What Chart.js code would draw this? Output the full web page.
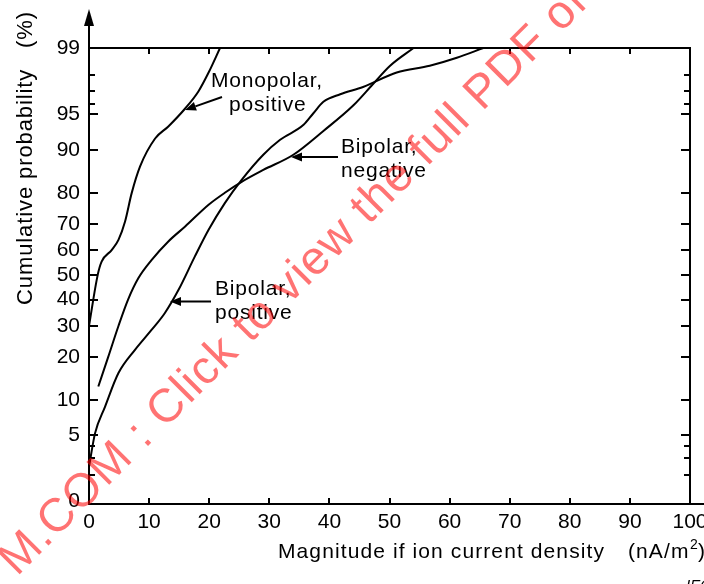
<!DOCTYPE html>
<html><head><meta charset="utf-8">
<script src="https://cdn.jsdelivr.net/npm/chart.js@4.4.1/dist/chart.umd.min.js"></script>
<style>html,body{margin:0;padding:0;background:#fff;overflow:hidden}#c{display:block}</style>
</head><body>
<canvas id="c" width="704" height="584"></canvas>
<script>
// ---- data (cumulative probability in %, x in nA/m2) ----
const monoX = [0, 1.45, 2.1, 3.8, 4.9, 6.0, 7.1, 8.5, 11.0, 13.2, 16.0, 18.2, 19.9, 21.8];
const monoP = [30, 50, 55.4, 60.1, 64, 70.8, 79.9, 86.7, 91.9, 93.6, 95.6, 97, 98.1, 99];
const bipNegX = [1.55, 3.2, 4.9, 6.5, 8.2, 10.4, 13.2, 16.0, 19.9, 22.6, 25.4, 29.0, 34.0, 39.0, 44.0, 47.3, 50.1, 54.0];
const bipNegP = [12.6, 20, 30, 40, 48.6, 56, 63.4, 69, 76.4, 80, 83, 85.9, 89.1, 93.0, 95.9, 97.5, 98.4, 99];
const bipPosX = [0, 1.0, 2.66, 4.9, 7.65, 10.4, 12.6, 14.9, 17.6, 19.9, 22.6, 25.4, 29.0, 31.8, 35.7, 37.3, 39.0, 41.8, 45.6, 51.2, 56.7, 61.2, 65.6];
const bipPosP = [2.45, 5.2, 8.8, 15.7, 22.1, 28.6, 34.7, 43.9, 57.4, 67.8, 76.9, 83.5, 89.1, 91.7, 93.8, 95.1, 96.2, 96.8, 97.3, 98.1, 98.4, 98.7, 99];
const yTickPos = [1, 5, 10, 20, 30, 40, 50, 60, 70, 80, 90, 95, 99];
const yTickLabels = ['0', '5', '10', '20', '30', '40', '50', '60', '70', '80', '90', '95', '99'];
const yMinorPos = [2, 3, 4, 96, 97, 98];
const xTickValues = [10, 20, 30, 40, 50, 60, 70, 80, 90];

const FONT = '"Liberation Sans", Arial, Helvetica, sans-serif';

function probit(p) {
  const a=[-3.969683028665376e+01,2.209460984245205e+02,-2.759285104469687e+02,1.383577518672690e+02,-3.066479806614716e+01,2.506628277459239e+00];
  const b=[-5.447609879822406e+01,1.615858368580409e+02,-1.556989798598866e+02,6.680131188771972e+01,-1.328068155288572e+01];
  const c=[-7.784894002430293e-03,-3.223964580411365e-01,-2.400758277161838e+00,-2.549732539343734e+00,4.374664141464968e+00,2.938163982698783e+00];
  const d=[7.784695709041462e-03,3.224671290700398e-01,2.445134137142996e+00,3.754408661907416e+00];
  const pl=0.02425, ph=1-pl;
  if (p<pl){const q=Math.sqrt(-2*Math.log(p));return (((((c[0]*q+c[1])*q+c[2])*q+c[3])*q+c[4])*q+c[5])/((((d[0]*q+d[1])*q+d[2])*q+d[3])*q+1);}
  if (p<=ph){const q=p-0.5,r=q*q;return (((((a[0]*r+a[1])*r+a[2])*r+a[3])*r+a[4])*r+a[5])*q/(((((b[0]*r+b[1])*r+b[2])*r+b[3])*r+b[4])*r+1);}
  const q=Math.sqrt(-2*Math.log(1-p));return -(((((c[0]*q+c[1])*q+c[2])*q+c[3])*q+c[4])*q+c[5])/((((d[0]*q+d[1])*q+d[2])*q+d[3])*q+1);
}
const mk = (xs, ps) => ({
  data: xs.map((x, i) => ({ x: x, y: probit(ps[i] / 100) })),
  borderColor: '#000', borderWidth: 2, pointRadius: 0, fill: false,
  cubicInterpolationMode: 'monotone'
});

function txt(ctx, s, x, y, size, spacing, opts) {
  opts = opts || {};
  ctx.save();
  ctx.font = (opts.italic ? 'italic ' : '') + size + 'px ' + FONT;
  ctx.fillStyle = opts.color || '#000';
  ctx.textBaseline = 'alphabetic';
  ctx.textAlign = 'left';
  try { ctx.letterSpacing = spacing + 'px'; } catch (e) {}
  ctx.translate(x, y);
  if (opts.rot) ctx.rotate(opts.rot);
  ctx.fillText(s, 0, 0);
  ctx.restore();
}
function arrow(ctx, x1, y1, x2, y2) {
  const ang = Math.atan2(y2 - y1, x2 - x1), L = 11, W = 4.5;
  const bx = x2 - L * Math.cos(ang), by = y2 - L * Math.sin(ang);
  ctx.beginPath(); ctx.moveTo(x1, y1); ctx.lineTo(bx, by); ctx.stroke();
  ctx.beginPath(); ctx.moveTo(x2, y2);
  ctx.lineTo(bx + W * Math.sin(ang), by - W * Math.cos(ang));
  ctx.lineTo(bx - W * Math.sin(ang), by + W * Math.cos(ang));
  ctx.closePath(); ctx.fill();
}

const deco = {
  id: 'deco',
  afterDraw(chart) {
    const ctx = chart.ctx, a = chart.chartArea, xs = chart.scales.x, ys = chart.scales.y;
    ctx.save();
    ctx.strokeStyle = '#000'; ctx.fillStyle = '#000'; ctx.lineWidth = 2; ctx.lineCap = 'butt';
    // frame + axes
    ctx.beginPath();
    ctx.moveTo(a.left, a.bottom + 1); ctx.lineTo(a.left, 20);
    ctx.moveTo(a.left - 1, a.top); ctx.lineTo(a.right + 1, a.top);
    ctx.moveTo(a.right, a.top); ctx.lineTo(a.right, a.bottom);
    ctx.moveTo(a.left - 1, a.bottom); ctx.lineTo(704, a.bottom);
    ctx.stroke();
    ctx.beginPath(); ctx.moveTo(a.left, 9); ctx.lineTo(a.left - 5, 26); ctx.lineTo(a.left + 5, 26); ctx.closePath(); ctx.fill();
    // y ticks (inward)
    ctx.beginPath();
    yTickPos.forEach(p => {
      if (p === 1 || p === 99) return;
      const py = Math.round(ys.getPixelForValue(probit(p / 100)));
      ctx.moveTo(a.left, py); ctx.lineTo(a.left + 9, py);
      ctx.moveTo(a.right, py); ctx.lineTo(a.right - 9, py);
    });
    yMinorPos.forEach(p => {
      const py = Math.round(ys.getPixelForValue(probit(p / 100)));
      ctx.moveTo(a.left, py); ctx.lineTo(a.left + 6, py);
      ctx.moveTo(a.right, py); ctx.lineTo(a.right - 6, py);
    });
    xTickValues.forEach(v => {
      const px = Math.round(xs.getPixelForValue(v));
      ctx.moveTo(px, a.bottom); ctx.lineTo(px, a.bottom - 6);
      ctx.moveTo(px, a.top); ctx.lineTo(px, a.top + 6);
    });
    ctx.stroke();
    // annotations
    ctx.lineWidth = 2;
    arrow(ctx, 222, 97, 185, 110);
    arrow(ctx, 338, 157, 291, 157);
    arrow(ctx, 211, 301.5, 170, 301.5);
    ctx.restore();
    txt(ctx, 'Monopolar,', 211, 87, 21, 0.8);
    txt(ctx, 'positive', 229, 111, 21, 0.8);
    txt(ctx, 'Bipolar,', 341, 153, 21, 0.8);
    txt(ctx, 'negative', 341, 177, 21, 0.8);
    txt(ctx, 'Bipolar,', 215, 295, 21, 0.8);
    txt(ctx, 'positive', 215, 319, 21, 0.8);
    // axis titles
    txt(ctx, 'Magnitude if ion current density', 278, 558, 21, 1.1);
    txt(ctx, '(nA/m', 628, 558, 21, 1.1);
    txt(ctx, '2', 690, 549, 14, 0);
    txt(ctx, ')', 698, 558, 21, 0);
    txt(ctx, 'Cumulative probability', 32, 305, 22, 0.9, { rot: -Math.PI / 2 });
    txt(ctx, '(%)', 32, 48, 22, 0.9, { rot: -Math.PI / 2 });
    txt(ctx, 'IEC', 686, 590, 15, 0, { italic: true });
    // watermark
    txt(ctx, 'M.COM : Click to view the full PDF of IEC', 17, 577, 47, 1, { rot: -Math.PI / 4, color: 'rgba(255,0,0,0.55)' });
  }
};

new Chart(document.getElementById('c'), {
  type: 'line',
  data: { datasets: [mk(monoX, monoP), mk(bipNegX, bipNegP), mk(bipPosX, bipPosP)] },
  options: {
    responsive: false, animation: false, devicePixelRatio: 1,
    layout: { padding: { top: 48, right: 14, left: 0, bottom: 0 } },
    plugins: { legend: { display: false }, tooltip: { enabled: false } },
    scales: {
      x: {
        type: 'linear', min: 0, max: 100,
        grid: { display: false, drawTicks: false }, border: { display: false },
        ticks: { stepSize: 10, autoSkip: false, maxRotation: 0, padding: 6, color: '#000', font: { family: FONT, size: 21 } },
        afterFit(s) { s.height = 80; s.paddingLeft = 0; s.paddingRight = 0; }
      },
      y: {
        type: 'linear', min: -2.35, max: probit(0.99),
        grid: { display: false, drawTicks: false }, border: { display: false },
        afterBuildTicks(s) { s.ticks = yTickPos.map(p => ({ value: probit(p / 100) })); },
        ticks: { autoSkip: false, padding: 9, color: '#000', font: { family: FONT, size: 21 }, callback: (v, i) => yTickLabels[i] },
        afterFit(s) { s.width = 89; s.paddingTop = 0; s.paddingBottom = 0; }
      }
    }
  },
  plugins: [deco]
});
</script></body></html>
